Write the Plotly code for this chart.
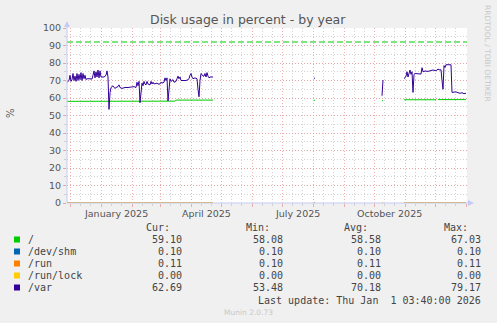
import plotly.graph_objects as go
import pandas as pd

# ---------------- data ----------------
BASE = pd.Timestamp("2024-12-01")          # day 0
X_START = pd.Timestamp("2024-11-28")
X_END = pd.Timestamp("2026-01-02")

# /var  (days since 2024-12-01, percent)
var_day = [-3, -2, -1, 0, 1, 2, 3, 4, 5, 6, 7, 8, 9, 10, 11, 12, 13, 14, 15, 16, 17, 20, 22, 23, 24, 25,
           26, 27, 28, 29, 30, 31, 34, 36, 37, 38, 39, 40, 41, 42, 43, 44, 45, 46, 48, 49, 50, 52, 55, 58,
           61, 64, 66, 67, 68, 69, 70, 71, 72, 73, 74, 75, 76, 77, 78, 80, 81, 82, 83, 84, 87, 88, 90, 91,
           92, 94, 95, 96, 97, 98, 99, 100, 101, 102, 103, 104, 106, 107, 108, 109, 110, 111, 114, 116, 118,
           119, 120, 121, 122, 123, 125, 127, 128, 129, 130, 131, 132, 133, 134, 135, 136, 137, 138, 139,
           140, 143, 144,
           244, 245, 246,
           312, 313, 314,
           334, 335, 336, 337, 338, 339, 340, 341, 342, 343, 344, 345, 347, 349, 351, 352, 353, 355, 358,
           361, 363, 366, 368, 370, 371, 372, 373, 374, 375, 376, 378, 381, 382, 384, 386, 388, 390, 392,
           394, 396]
var_val = [69, 69.5, 70, 73, 69.5, 70.5, 74, 70, 72.5, 69.5, 74, 70, 73.5, 70.5, 74.5, 70, 74, 71, 73, 70.5,
           71, 71, 70.8, 73, 75.5, 71.5, 75, 72, 76, 71.5, 75.5, 72, 72, 73, 75.5, 72, 53.5, 63, 66, 66.5,
           67, 66, 65.5, 66, 66.5, 67.5, 66, 65.5, 66, 66, 66.3, 66.5, 66, 69, 67, 69.5, 57.3, 66, 68.5, 67,
           69.5, 68, 67.5, 69.5, 68, 67.5, 69.5, 68, 69, 68, 68.5, 68, 68, 69, 68.5, 69, 71.5, 70, 71.5, 58.3,
           67, 71, 69.5, 70, 70.5, 69, 69.5, 71, 72.5, 71, 72, 70, 70, 70, 70.5, 71, 73, 74, 72, 71, 71.5,
           71, 65, 60.7, 70, 74, 73.5, 72.5, 72.5, 74, 72, 74.5, 72.5, 71.5, 72, 72, None,
           71.3, 71.3, None,
           61.3, 70.3, None,
           71.2, 71.5, 72.5, 75, 72, 74.5, 76, 73.5, 75, 63.2, 73.5, 74, 73.7, 73.8, 73.7, 77.3, 75, 75.4,
           75.2, 75.5, 76, 75.6, 76.5, 76, 76.2, 70, 65, 78.5, 77.5, 79, 79.17, 79, 63.2, 63.5, 63.5, 63,
           62.7, 63, 62.5, 62.69]

# / (root)
root_day = [-3, 105, 106, 143, 144, 244, 245, 246, 312, 313, 314, 334, 366, 367, 368, 396]
root_val = [58.1, 58.2, 58.8, 58.8, None, 58.7, 58.7, None, 58.5, 58.5, None, 59.0, 59.0, None, 59.1, 59.1]

# near-zero filesystems (same sampling periods)
small_day = [-3, 143, 144, 244, 245, 246, 312, 313, 314, 334, 396]
shm_val = [0.10, 0.10, None, 0.10, 0.10, None, 0.10, 0.10, None, 0.10, 0.10]
run_val = [0.10, 0.11, None, 0.11, 0.11, None, 0.11, 0.11, None, 0.11, 0.11]
lock_val = [0.00, 0.00, None, 0.00, 0.00, None, 0.00, 0.00, None, 0.00, 0.00]

warning_level = 92

names = ["/", "/dev/shm", "/run", "/run/lock", "/var"]
colors = ["#00cc00", "#0066b3", "#ff8000", "#ffcc00", "#330099"]
cur = ["59.10", "0.10", "0.11", "0.00", "62.69"]
mins = ["58.08", "0.10", "0.10", "0.00", "53.48"]
avgs = ["58.58", "0.10", "0.11", "0.00", "70.18"]
maxs = ["67.03", "0.10", "0.11", "0.00", "79.17"]

month_labels = ["January 2025", "April 2025", "July 2025", "October 2025"]
month_label_dates = ["2025-01-16", "2025-04-16", "2025-07-16", "2025-10-16"]

title = "Disk usage in percent - by year"
last_update = "Last update: Thu Jan  1 03:40:00 2026"
# --------------------------------------


def to_dates(days):
    return [BASE + pd.Timedelta(days=d) for d in days]


# pixel helpers (plot area: x 67..467, y 28..203)
L, R, T, B = 67, 467, 28, 203


def px(x):
    return (x - L) / (R - L)


def py(y):
    return (B - y) / (B - T)


fig = go.Figure()

series = [
    (to_dates(root_day), root_val, 0),
    (to_dates(small_day), shm_val, 1),
    (to_dates(small_day), run_val, 2),
    (to_dates(small_day), lock_val, 3),
    (to_dates(var_day), var_val, 4),
]
for xs, ys, i in series:
    fig.add_trace(go.Scatter(x=xs, y=ys, mode="lines", name=names[i],
                             line=dict(color=colors[i], width=1),
                             connectgaps=False, showlegend=False, hoverinfo="skip"))

# grid positions
month_starts = pd.date_range("2024-12-01", "2026-01-01", freq="MS")
minor_days = []
for m in month_starts:
    for d in (10, 20):
        t = m + pd.Timedelta(days=d)
        if t < X_END:
            minor_days.append(t)

red = "rgba(235,150,150,0.75)"
gray = "rgba(200,200,200,0.8)"

fig.update_layout(
    width=497, height=323,
    margin=dict(l=L, r=497 - R, t=T, b=323 - B),
    paper_bgcolor="#f0f0f0", plot_bgcolor="#ffffff",
    showlegend=False,
    xaxis=dict(range=[X_START, X_END], type="date",
               tickvals=list(month_starts), showticklabels=False,
               showgrid=True, gridcolor=red, griddash="1px,2px", gridwidth=1,
               ticks="outside", ticklen=3, tickcolor=red,
               minor=dict(tickvals=minor_days, showgrid=True, gridcolor=gray,
                          griddash="1px,2px", ticks="outside", ticklen=2, tickcolor=gray),
               zeroline=False, showline=False, fixedrange=True),
    yaxis=dict(range=[0, 100], tickvals=list(range(0, 101, 10)),
               tickfont=dict(family="DejaVu Sans", size=9.5, color="#555555"),
               showgrid=True, gridcolor=red, griddash="1px,2px",
               ticks="outside", ticklen=3, tickcolor=red,
               minor=dict(dtick=5, showgrid=True, gridcolor=gray, griddash="1px,2px",
                          ticks="outside", ticklen=2, tickcolor=gray),
               zeroline=False, showline=False, fixedrange=True),
)

# warning line
fig.add_shape(type="line", xref="paper", yref="y", x0=0, x1=1, y0=warning_level, y1=warning_level,
              line=dict(color="#00cc00", width=1.2, dash="6px,3px"))

axis_col = "#c4cbf5"
# axis lines + arrows
fig.add_shape(type="line", xref="paper", yref="paper", x0=0, x1=0, y0=0, y1=py(24),
              line=dict(color=axis_col, width=1))
fig.add_shape(type="line", xref="paper", yref="paper", x0=0, x1=px(469), y0=0, y1=0,
              line=dict(color=axis_col, width=1))
fig.add_shape(type="path", xref="paper", yref="paper",
              path=f"M {px(64)},{py(27)} L {px(70)},{py(27)} L {px(67)},{py(21)} Z",
              fillcolor=axis_col, line=dict(width=0))
fig.add_shape(type="path", xref="paper", yref="paper",
              path=f"M {px(468)},{py(200)} L {px(468)},{py(206)} L {px(474)},{py(203)} Z",
              fillcolor=axis_col, line=dict(width=0))

ann = []
# title
ann.append(dict(text=title, x=px(248), y=py(19), xref="paper", yref="paper",
                xanchor="center", yanchor="middle", showarrow=False,
                font=dict(family="DejaVu Sans", size=12.5, color="#555555")))
# y label
ann.append(dict(text="%", x=px(10), y=py(113), xref="paper", yref="paper",
                xanchor="center", yanchor="middle", showarrow=False, textangle=-90,
                font=dict(family="DejaVu Sans", size=10, color="#555555")))
# watermark
ann.append(dict(text="RRDTOOL / TOBI OETIKER", x=px(488), y=py(53), xref="paper", yref="paper",
                xanchor="center", yanchor="middle", showarrow=False, textangle=90,
                font=dict(family="DejaVu Sans", size=7.5, color="#c8c8c8")))
# x month labels
for lab, d in zip(month_labels, month_label_dates):
    ann.append(dict(text=lab, x=pd.Timestamp(d), y=py(213), xref="x", yref="paper",
                    xanchor="center", yanchor="middle", showarrow=False,
                    font=dict(family="DejaVu Sans", size=9.5, color="#555555")))

mono = dict(family="DejaVu Sans Mono", size=10, color="#444444")
# headers
for h, xr in zip(["Cur:", "Min:", "Avg:", "Max:"], [172, 272, 370, 470]):
    ann.append(dict(text=h, x=px(xr), y=py(227.5), xref="paper", yref="paper",
                    xanchor="right", yanchor="middle", showarrow=False, font=mono))
row_y0 = 239.5
for i, n in enumerate(names):
    yy = row_y0 + 12 * i
    fig.add_shape(type="rect", xref="paper", yref="paper",
                  x0=px(14), x1=px(20), y0=py(yy - 3), y1=py(yy + 3),
                  fillcolor=colors[i], line=dict(width=0))
    ann.append(dict(text=n, x=px(26), y=py(yy), xref="paper", yref="paper",
                    xanchor="left", yanchor="middle", showarrow=False, font=mono))
    for v, xr in zip([cur[i], mins[i], avgs[i], maxs[i]], [184, 285, 383, 483]):
        ann.append(dict(text=v, x=px(xr), y=py(yy), xref="paper", yref="paper",
                        xanchor="right", yanchor="middle", showarrow=False, font=mono))
ann.append(dict(text=last_update.replace(" ", "&nbsp;"), x=px(483), y=py(300), xref="paper", yref="paper",
                xanchor="right", yanchor="middle", showarrow=False, font=mono))
ann.append(dict(text="Munin 2.0.73", x=px(248), y=py(312), xref="paper", yref="paper",
                xanchor="center", yanchor="middle", showarrow=False,
                font=dict(family="DejaVu Sans", size=7.5, color="#c8c8c8")))

fig.update_layout(annotations=ann)
fig.write_html("out.html", config={"displayModeBar": False})
